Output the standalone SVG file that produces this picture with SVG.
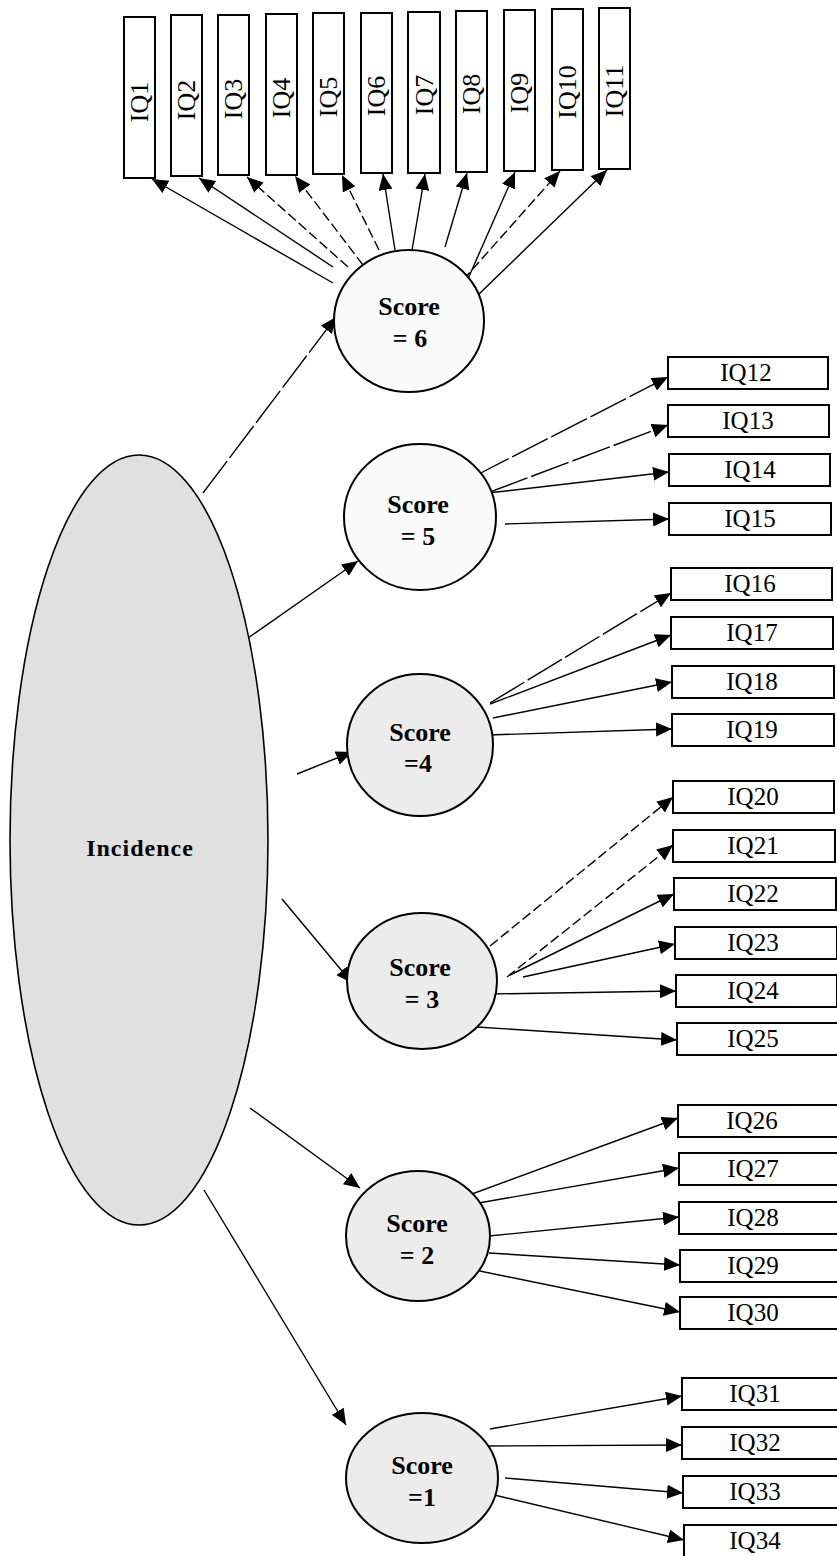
<svg xmlns="http://www.w3.org/2000/svg" width="837" height="1556" viewBox="0 0 837 1556">
<style>
.bg{fill:#ffffff}
.box{fill:#ffffff;stroke:#000;stroke-width:2}
.lbl{font-family:"Liberation Serif","Times New Roman",serif;font-size:25px;fill:#000;text-anchor:middle}
.vl{font-family:"Liberation Serif","Times New Roman",serif;font-size:26px;fill:#000;text-anchor:middle}
.sc{font-family:"Liberation Serif","Times New Roman",serif;font-size:26px;font-weight:bold;fill:#000;text-anchor:middle}
.inc{font-family:"Liberation Serif","Times New Roman",serif;font-size:24px;font-weight:bold;letter-spacing:1px;fill:#000;text-anchor:middle}
.lt{fill:#fafafa;stroke:#000;stroke-width:2}
.md{fill:#ececec;stroke:#000;stroke-width:2}
.ell{fill:#e0e0e0;stroke:#000;stroke-width:1.6}
.c{stroke:#000;stroke-width:1.4;fill:none;marker-end:url(#ah)}
.d{stroke:#000;stroke-width:1.4;fill:none;stroke-dasharray:10 4;marker-end:url(#ah)}
.g{stroke:#000;stroke-width:1.4;fill:none;stroke-dasharray:40 4;marker-end:url(#ah)}
</style>
<defs>
<marker id="ah" markerUnits="userSpaceOnUse" markerWidth="17" markerHeight="14" refX="16" refY="7" orient="auto">
<path d="M0,0 L16,7 L0,14 Z" fill="#000"/>
</marker>
</defs>
<rect class="bg" x="0" y="0" width="837" height="1556"/>

<g id="connectors">
<line class="g" x1="203" y1="493" x2="336" y2="317"/>
<line class="c" x1="248" y1="638" x2="358" y2="561"/>
<line class="c" x1="297" y1="774" x2="352" y2="752"/>
<line class="c" x1="282" y1="899" x2="352" y2="983"/>
<line class="c" x1="250" y1="1108" x2="360" y2="1188"/>
<line class="c" x1="204" y1="1190" x2="346" y2="1425"/>
<line class="c" x1="333" y1="283" x2="152" y2="179"/>
<line class="c" x1="333" y1="267" x2="199" y2="178"/>
<line class="d" x1="348" y1="267" x2="247" y2="177"/>
<line class="d" x1="363" y1="265" x2="295" y2="176"/>
<line class="d" x1="379" y1="250" x2="342" y2="175"/>
<line class="c" x1="395" y1="250" x2="383" y2="174"/>
<line class="c" x1="412" y1="250" x2="425" y2="174"/>
<line class="c" x1="445" y1="247" x2="467" y2="173"/>
<line class="c" x1="460" y1="297" x2="515" y2="172"/>
<line class="d" x1="463" y1="280" x2="560" y2="171"/>
<line class="c" x1="478" y1="295" x2="607" y2="170"/>
<line class="g" x1="473" y1="477" x2="668" y2="377"/>
<line class="g" x1="490" y1="492" x2="668" y2="425"/>
<line class="c" x1="488" y1="493" x2="669" y2="472"/>
<line class="c" x1="505" y1="524" x2="669" y2="519"/>
<line class="g" x1="490" y1="703" x2="671" y2="593"/>
<line class="c" x1="490" y1="704" x2="671" y2="635"/>
<line class="c" x1="493" y1="718" x2="672" y2="682"/>
<line class="c" x1="488" y1="735" x2="672" y2="729"/>
<line class="d" x1="490" y1="946" x2="673" y2="797"/>
<line class="d" x1="507" y1="977" x2="673" y2="845"/>
<line class="c" x1="510" y1="975" x2="674" y2="894"/>
<line class="c" x1="523" y1="977" x2="675" y2="944"/>
<line class="c" x1="488" y1="994" x2="676" y2="991"/>
<line class="c" x1="477" y1="1027" x2="677" y2="1040"/>
<line class="c" x1="442" y1="1205" x2="678" y2="1118"/>
<line class="c" x1="473" y1="1204" x2="679" y2="1168"/>
<line class="c" x1="489" y1="1236" x2="679" y2="1217"/>
<line class="c" x1="489" y1="1253" x2="680" y2="1265"/>
<line class="c" x1="475" y1="1270" x2="680" y2="1312"/>
<line class="c" x1="490" y1="1429" x2="682" y2="1396"/>
<line class="c" x1="488" y1="1446" x2="682" y2="1445"/>
<line class="c" x1="505" y1="1478" x2="683" y2="1493"/>
<line class="c" x1="490" y1="1494" x2="684" y2="1540"/>
</g>

<g id="incidence">
<ellipse class="ell" cx="139" cy="840" rx="129" ry="385"/>
<text class="inc" x="140" y="856">Incidence</text>
</g>

<g id="score6"><ellipse class="lt" cx="409" cy="321" rx="75" ry="71"/><text class="sc" x="409" y="315">Score</text><text class="sc" x="410" y="347">= 6</text></g>
<g id="score5"><ellipse class="lt" cx="420" cy="517" rx="76" ry="73"/><text class="sc" x="418" y="513">Score</text><text class="sc" x="418" y="545">= 5</text></g>
<g id="score4"><ellipse class="md" cx="420" cy="745" rx="73" ry="71"/><text class="sc" x="420" y="741">Score</text><text class="sc" x="418" y="772">=4</text></g>
<g id="score3"><ellipse class="md" cx="422" cy="981" rx="75" ry="68"/><text class="sc" x="420" y="976">Score</text><text class="sc" x="422" y="1008">= 3</text></g>
<g id="score2"><ellipse class="md" cx="418" cy="1236" rx="72" ry="65"/><text class="sc" x="417" y="1232">Score</text><text class="sc" x="417" y="1264">= 2</text></g>
<g id="score1"><ellipse class="md" cx="422" cy="1478" rx="76" ry="65"/><text class="sc" x="422" y="1474">Score</text><text class="sc" x="422" y="1506">=1</text></g>

<g id="IQ1"><rect class="box" x="124" y="17" width="31" height="161"/><text class="vl" transform="translate(148,102) rotate(-90)">IQ1</text></g>
<g id="IQ2"><rect class="box" x="171" y="15" width="31" height="161"/><text class="vl" transform="translate(195,100) rotate(-90)">IQ2</text></g>
<g id="IQ3"><rect class="box" x="218" y="15" width="31" height="160"/><text class="vl" transform="translate(242,99) rotate(-90)">IQ3</text></g>
<g id="IQ4"><rect class="box" x="266" y="14" width="31" height="161"/><text class="vl" transform="translate(290,98) rotate(-90)">IQ4</text></g>
<g id="IQ5"><rect class="box" x="313" y="13" width="31" height="161"/><text class="vl" transform="translate(337,97) rotate(-90)">IQ5</text></g>
<g id="IQ6"><rect class="box" x="361" y="13" width="31" height="160"/><text class="vl" transform="translate(385,96) rotate(-90)">IQ6</text></g>
<g id="IQ7"><rect class="box" x="408" y="12" width="32" height="161"/><text class="vl" transform="translate(433,95) rotate(-90)">IQ7</text></g>
<g id="IQ8"><rect class="box" x="456" y="11" width="31" height="161"/><text class="vl" transform="translate(480,94) rotate(-90)">IQ8</text></g>
<g id="IQ9"><rect class="box" x="504" y="10" width="31" height="161"/><text class="vl" transform="translate(528,93) rotate(-90)">IQ9</text></g>
<g id="IQ10"><rect class="box" x="552" y="9" width="31" height="161"/><text class="vl" transform="translate(576,92) rotate(-90)">IQ10</text></g>
<g id="IQ11"><rect class="box" x="599" y="8" width="31" height="161"/><text class="vl" transform="translate(623,91) rotate(-90)">IQ11</text></g>

<g id="IQ12"><rect class="box" x="668" y="357" width="160" height="32"/><text class="lbl" x="746" y="381">IQ12</text></g>
<g id="IQ13"><rect class="box" x="668" y="405" width="161" height="32"/><text class="lbl" x="748" y="429">IQ13</text></g>
<g id="IQ14"><rect class="box" x="669" y="454" width="161" height="32"/><text class="lbl" x="750" y="478">IQ14</text></g>
<g id="IQ15"><rect class="box" x="669" y="503" width="162" height="32"/><text class="lbl" x="750" y="527">IQ15</text></g>
<g id="IQ16"><rect class="box" x="671" y="568" width="161" height="32"/><text class="lbl" x="750" y="592">IQ16</text></g>
<g id="IQ17"><rect class="box" x="671" y="617" width="162" height="32"/><text class="lbl" x="752" y="641">IQ17</text></g>
<g id="IQ18"><rect class="box" x="672" y="666" width="162" height="32"/><text class="lbl" x="752" y="690">IQ18</text></g>
<g id="IQ19"><rect class="box" x="672" y="714" width="162" height="32"/><text class="lbl" x="752" y="738">IQ19</text></g>
<g id="IQ20"><rect class="box" x="673" y="781" width="161" height="32"/><text class="lbl" x="753" y="805">IQ20</text></g>
<g id="IQ21"><rect class="box" x="673" y="830" width="162" height="32"/><text class="lbl" x="753" y="854">IQ21</text></g>
<g id="IQ22"><rect class="box" x="674" y="878" width="162" height="32"/><text class="lbl" x="753" y="902">IQ22</text></g>
<g id="IQ23"><rect class="box" x="675" y="927" width="162" height="32"/><text class="lbl" x="753" y="951">IQ23</text></g>
<g id="IQ24"><rect class="box" x="676" y="975" width="161" height="32"/><text class="lbl" x="753" y="999">IQ24</text></g>
<g id="IQ25"><rect class="box" x="677" y="1023" width="161" height="32"/><text class="lbl" x="753" y="1047">IQ25</text></g>
<g id="IQ26"><rect class="box" x="678" y="1105" width="165" height="32"/><text class="lbl" x="752" y="1129">IQ26</text></g>
<g id="IQ27"><rect class="box" x="679" y="1153" width="165" height="32"/><text class="lbl" x="753" y="1177">IQ27</text></g>
<g id="IQ28"><rect class="box" x="679" y="1202" width="165" height="32"/><text class="lbl" x="753" y="1226">IQ28</text></g>
<g id="IQ29"><rect class="box" x="680" y="1250" width="165" height="32"/><text class="lbl" x="753" y="1274">IQ29</text></g>
<g id="IQ30"><rect class="box" x="680" y="1297" width="165" height="32"/><text class="lbl" x="753" y="1321">IQ30</text></g>
<g id="IQ31"><rect class="box" x="682" y="1378" width="165" height="32"/><text class="lbl" x="755" y="1402">IQ31</text></g>
<g id="IQ32"><rect class="box" x="682" y="1427" width="165" height="32"/><text class="lbl" x="755" y="1451">IQ32</text></g>
<g id="IQ33"><rect class="box" x="683" y="1476" width="165" height="32"/><text class="lbl" x="755" y="1500">IQ33</text></g>
<g id="IQ34"><rect class="box" x="684" y="1525" width="165" height="32"/><text class="lbl" x="755" y="1549">IQ34</text></g>
</svg>
